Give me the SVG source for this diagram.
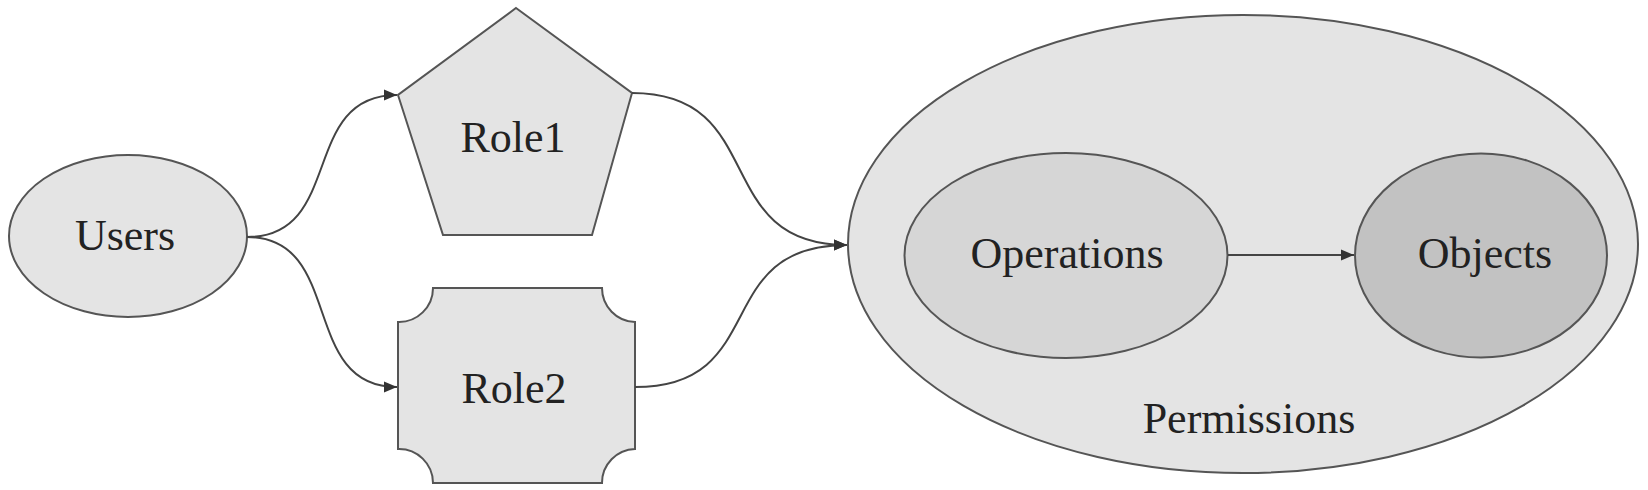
<svg xmlns="http://www.w3.org/2000/svg" width="1648" height="490" viewBox="0 0 1648 490">
  <style>
    .shape { stroke: #555; stroke-width: 2; }
    .light { fill: #e4e4e4; }
    .mid { fill: #d6d6d6; }
    .dark { fill: #c2c2c2; }
    .label { font-family: 'Liberation Serif', 'Times New Roman', serif; font-size: 44px; fill: #222; text-anchor: middle; }
    .edge { fill: none; stroke: #444; stroke-width: 2; }
  </style>
  <defs>
    <marker id="arrow" markerUnits="userSpaceOnUse" markerWidth="14" markerHeight="12" refX="13" refY="6" orient="auto">
      <path d="M0,0.5 L13,6 L0,11.5 z" fill="#333"/>
    </marker>
  </defs>
  <rect x="0" y="0" width="1648" height="490" fill="#ffffff"/>

  <g id="node-users">
    <ellipse class="shape light" cx="128" cy="236" rx="119" ry="81"/>
    <text class="label" x="125" y="250">Users</text>
  </g>

  <g id="node-role1">
    <polygon class="shape light" points="516,8 632,93 592,235 443,235 398,95"/>
    <text class="label" x="513" y="152">Role1</text>
  </g>

  <g id="node-role2">
    <path class="shape light" d="M433,288 H602 A34,34 0 0 0 635,322 V449 A34,34 0 0 0 602,483 H433 A34,34 0 0 0 398,449 V322 A34,34 0 0 0 433,288 Z"/>
    <text class="label" x="514" y="403">Role2</text>
  </g>

  <g id="node-permissions">
    <ellipse class="shape light" cx="1243" cy="244" rx="395" ry="229"/>
    <text class="label" x="1249" y="433">Permissions</text>
  </g>

  <g id="node-operations">
    <ellipse class="shape mid" cx="1066" cy="255.5" rx="161.5" ry="102.5"/>
    <text class="label" x="1067" y="268">Operations</text>
  </g>

  <g id="node-objects">
    <ellipse class="shape dark" cx="1481" cy="255.5" rx="126" ry="102"/>
    <text class="label" x="1485" y="268">Objects</text>
  </g>

  <g id="connectors">
    <path class="edge" d="M247,237 C345,237 299,95 397,95" marker-end="url(#arrow)"/>
    <path class="edge" d="M247,237 C345,237 299,387 397,387" marker-end="url(#arrow)"/>
    <path class="edge" d="M632,93 C770,93 709,245 847,245" marker-end="url(#arrow)"/>
    <path class="edge" d="M635,387 C772,387 709,245 847,245" marker-end="url(#arrow)"/>
    <path class="edge" d="M1228,255 L1354,255" marker-end="url(#arrow)"/>
  </g>
</svg>
